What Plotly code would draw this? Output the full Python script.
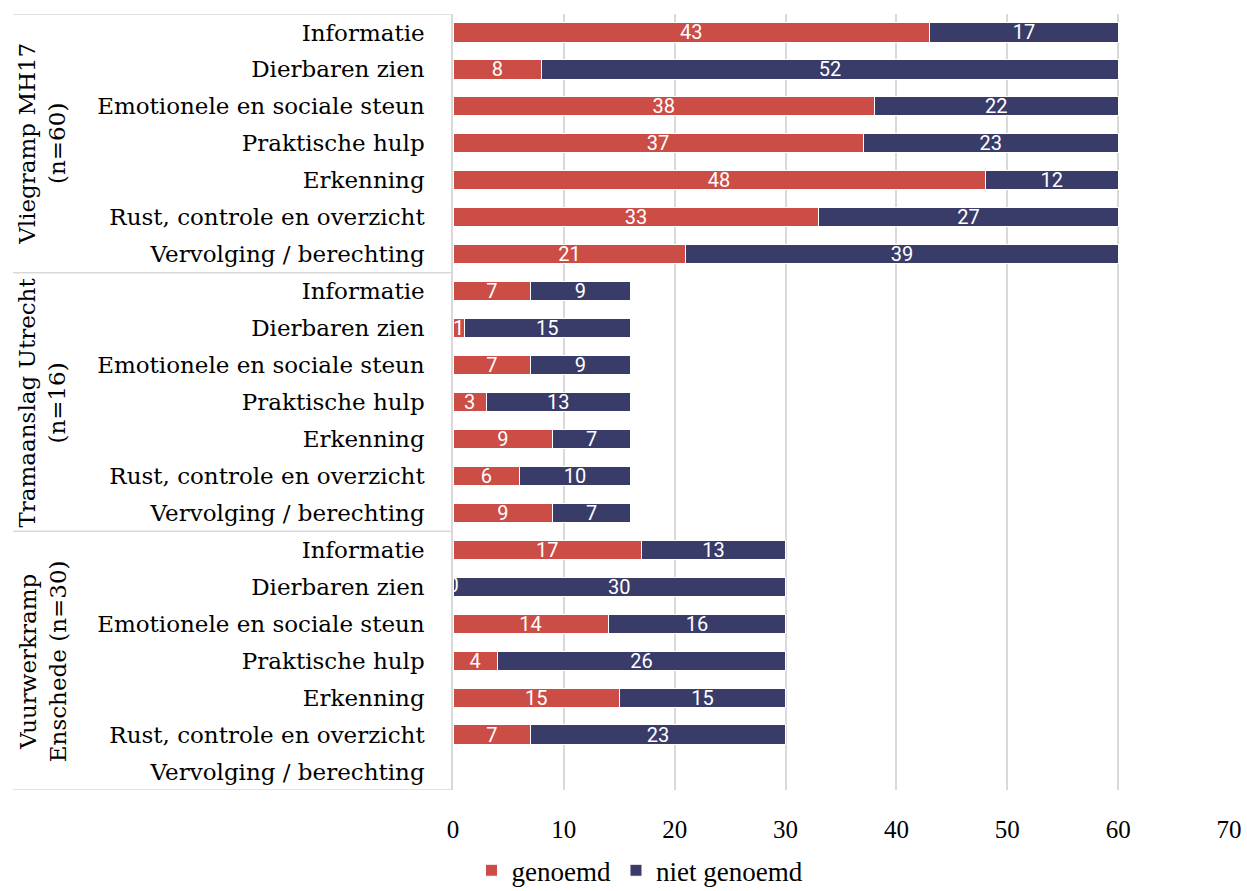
import plotly.graph_objects as go

groups = ["Vliegramp MH17<br>(n=60)", "Tramaanslag Utrecht<br>(n=16)", "Vuurwerkramp<br>Enschede (n=30)"]
categories = ["Informatie", "Dierbaren zien", "Emotionele en sociale steun", "Praktische hulp",
              "Erkenning", "Rust, controle en overzicht", "Vervolging / berechting"]

genoemd_mh17 = [43, 8, 38, 37, 48, 33, 21]
niet_mh17 = [17, 52, 22, 23, 12, 27, 39]
genoemd_utrecht = [7, 1, 7, 3, 9, 6, 9]
niet_utrecht = [9, 15, 9, 13, 7, 10, 7]
genoemd_enschede = [17, 0, 14, 4, 15, 7, None]
niet_enschede = [13, 30, 16, 26, 15, 23, None]

genoemd = genoemd_mh17 + genoemd_utrecht + genoemd_enschede
niet = niet_mh17 + niet_utrecht + niet_enschede
labels = categories * len(groups)
ypos = list(range(len(labels)))

RED = "#CB4D45"
NAVY = "#393C69"
SERIF = "DejaVu Serif"
TICKF = "Liberation Serif"

fig = go.Figure()
for name, vals, col in [("genoemd", genoemd, RED), ("niet genoemd", niet, NAVY)]:
    fig.add_trace(go.Bar(
        y=ypos, x=vals, name=name, orientation="h",
        marker=dict(color=col, line=dict(color="white", width=1)),
        text=[("" if v is None else str(v)) for v in vals],
        textposition="inside", insidetextanchor="middle", textangle=0,
        constraintext="none",
        textfont=dict(family="Roboto", size=20, color="white"),
        hoverinfo="x+name",
    ))

# labels for zero-valued "genoemd" segments (drawn at the axis, clipped like the original)
zero_y = [y for y, v in zip(ypos, genoemd) if v == 0]
zero_x = [v for v in genoemd if v == 0]
fig.add_trace(go.Scatter(
    x=zero_x, y=zero_y, mode="text", text=[str(v) for v in zero_x],
    textposition="middle center", cliponaxis=True,
    textfont=dict(family="Roboto", size=20, color="white"),
    showlegend=False, hoverinfo="skip",
))

n_per = len(categories)
shapes = []
for g in range(len(groups) + 1):
    yb = g * n_per - 0.5
    shapes.append(dict(type="line", xref="paper", yref="y", x0=-0.567, x1=0, y0=yb, y1=yb,
                       line=dict(color="#D9D9D9", width=1.5)))

annotations = []
for g, gname in enumerate(groups):
    annotations.append(dict(
        xref="paper", yref="y", x=-0.529, y=g * n_per + (n_per - 1) / 2,
        text=gname, showarrow=False, textangle=-90,
        font=dict(family=SERIF, size=23, color="#000000"),
        xanchor="center", yanchor="middle",
    ))

fig.update_layout(
    barmode="stack",
    bargap=0.48,
    width=1247, height=891,
    margin=dict(l=453, r=18, t=14, b=101, autoexpand=False),
    paper_bgcolor="white", plot_bgcolor="white",
    shapes=shapes, annotations=annotations,
    legend=dict(orientation="h", x=0.241, xanchor="center", y=-0.104, yanchor="middle",
                font=dict(family=TICKF, size=27, color="#000000"),
                itemwidth=30, traceorder="normal"),
    xaxis=dict(range=[0, 70], dtick=10, showgrid=True, gridcolor="#D9D9D9", gridwidth=1.5,
               zeroline=False, showline=False, automargin=False,
               tickfont=dict(family=TICKF, size=25, color="#000000"), ticks="",
               ticklabelstandoff=22),
    yaxis=dict(tickmode="array", tickvals=ypos, ticktext=labels, autorange=False,
               range=[len(labels) - 0.5, -0.5], automargin=False,
               showgrid=False, zeroline=False, showline=True, linecolor="#D9D9D9", linewidth=1.5,
               ticks="", ticklabelstandoff=22,
               tickfont=dict(family=SERIF, size=23, color="#000000")),
)

fig.write_html(
    "out.html",
    config={"displayModeBar": False},
    post_script="document.body.style.margin='0';document.body.style.overflow='hidden';",
)
